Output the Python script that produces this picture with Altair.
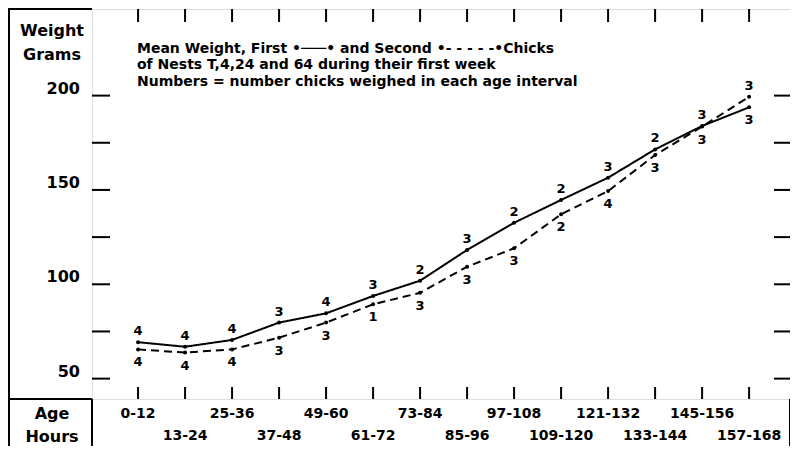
import altair as alt
import pandas as pd

# ---- data ----
ages = ["0-12", "13-24", "25-36", "37-48", "49-60", "61-72", "73-84",
        "85-96", "97-108", "109-120", "121-132", "133-144", "145-156", "157-168"]
first_weight = [69.3, 66.9, 70.5, 79.7, 84.6, 93.8, 101.9,
                118.2, 132.6, 144.7, 156.5, 171.5, 183.9, 193.8]
second_weight = [65.5, 63.8, 65.5, 71.7, 79.7, 89.4, 95.5,
                 109.3, 119.1, 137.1, 149.4, 168.5, 183.6, 199.4]
first_n = [4, 4, 4, 3, 4, 3, 2, 3, 2, 2, 3, 2, 3, 3]
second_n = [4, 4, 4, 3, 3, 1, 3, 3, 3, 2, 4, 3, 3, 3]
y_label_values = [50, 100, 150, 200]
y_tick_values = [50, 75, 100, 125, 150, 175, 200]
title_lines = [
    "Mean Weight, First \u2022\u2500\u2500\u2500\u2022 and Second \u2022- - - - -\u2022Chicks",
    "of Nests T,4,24 and 64 during their first week",
    "Numbers = number chicks weighed in each age interval",
]

FONT = "DejaVu Sans"
W, H = 698, 390

rows = []
for i, a in enumerate(ages):
    f, s = first_weight[i], second_weight[i]
    rows.append(dict(idx=i, age=a, series="First", weight=f, n=first_n[i], upper=f >= s))
    rows.append(dict(idx=i, age=a, series="Second", weight=s, n=second_n[i], upper=s > f))
df = pd.DataFrame(rows)

xdf = pd.DataFrame({"idx": list(range(len(ages))), "age": ages,
                    "row": [i % 2 for i in range(len(ages))]})
ytick_df = pd.DataFrame({"v": y_tick_values})
ylab_df = pd.DataFrame({"v": y_label_values})

xs = alt.Scale(domain=[-0.98, 13.87], nice=False, zero=False)
ys = alt.Scale(domain=[39.2, 245.9], nice=False, zero=False)
X = alt.X("idx:Q", scale=xs, axis=None)
Y = alt.Y("weight:Q", scale=ys, axis=None)

base = alt.Chart(df)
lines = base.mark_line(color="black", strokeWidth=2).encode(
    x=X, y=Y, detail="series:N",
    strokeDash=alt.StrokeDash("series:N", scale=alt.Scale(domain=["First", "Second"],
                                                          range=[[1, 0], [8, 5]]), legend=None),
)
pts = base.mark_circle(color="black", size=16, opacity=1).encode(x=X, y=Y)
lab_up = base.transform_filter("datum.upper").mark_text(
    font=FONT, fontSize=13, fontWeight="bold", dy=-11, color="black").encode(x=X, y=Y, text="n:Q")
lab_dn = base.transform_filter("!datum.upper").mark_text(
    font=FONT, fontSize=13, fontWeight="bold", dy=13, color="black").encode(x=X, y=Y, text="n:Q")

xt = alt.Chart(xdf)
xticks_b = xt.mark_rule(color="black", strokeWidth=2).encode(
    x=alt.X("idx:Q", scale=xs, axis=None), y=alt.value(H - 12), y2=alt.value(H))
xticks_t = xt.mark_rule(color="black", strokeWidth=2).encode(
    x=alt.X("idx:Q", scale=xs, axis=None), y=alt.value(0), y2=alt.value(13))
xlab0 = xt.transform_filter("datum.row == 0").mark_text(
    font=FONT, fontSize=14, fontWeight="bold", color="black").encode(
    x=alt.X("idx:Q", scale=xs, axis=None), y=alt.value(H + 15), text="age:N")
xlab1 = xt.transform_filter("datum.row == 1").mark_text(
    font=FONT, fontSize=14, fontWeight="bold", color="black").encode(
    x=alt.X("idx:Q", scale=xs, axis=None), y=alt.value(H + 37), text="age:N")

yt = alt.Chart(ytick_df)
yticks_l = yt.mark_rule(color="black", strokeWidth=2).encode(
    y=alt.Y("v:Q", scale=ys, axis=None), x=alt.value(0), x2=alt.value(18))
yticks_r = yt.mark_rule(color="black", strokeWidth=2).encode(
    y=alt.Y("v:Q", scale=ys, axis=None), x=alt.value(W - 16), x2=alt.value(W))
ylab = alt.Chart(ylab_df).mark_text(
    font=FONT, fontSize=16, fontWeight="bold", align="right", dy=-7, color="black").encode(
    y=alt.Y("v:Q", scale=ys, axis=None), x=alt.value(-12), text="v:Q")

title = alt.Chart(pd.DataFrame({"k": [0]})).mark_text(
    font=FONT, fontSize=14, fontWeight="bold", align="left", baseline="alphabetic",
    lineHeight=16.5, color="black").encode(x=alt.value(45), y=alt.value(43.5), text=alt.value(title_lines))

def side(txt, cy):
    return alt.Chart(pd.DataFrame({"k": [0]})).mark_text(
        font=FONT, fontSize=16, fontWeight="bold", color="black").encode(
        x=alt.value(-40), y=alt.value(cy), text=alt.value(txt))

frame = []
for seg in [dict(x=-83, x2=-83, y=-1, y2=H + 60),
            dict(x=-83, x2=0, y=0, y2=0),
            dict(x=-83, x2=0, y=H, y2=H),
            dict(x=0, x2=0, y=H, y2=H + 60),
            dict(x=W, x2=W, y=H, y2=H + 60)]:
    frame.append(alt.Chart(pd.DataFrame({"k": [0]})).mark_rule(color="black", strokeWidth=2).encode(
        x=alt.value(seg["x"]), x2=alt.value(seg["x2"]), y=alt.value(seg["y"]), y2=alt.value(seg["y2"])))

chart = alt.layer(
    *frame, xticks_b, xticks_t, yticks_l, yticks_r, lines, pts, lab_up, lab_dn,
    xlab0, xlab1, ylab, title,
    side("Weight", 22), side("Grams", 46), side("Age", 405), side("Hours", 428),
).properties(
    width=W, height=H,
    padding={"left": 84, "top": 1, "right": 0, "bottom": 47},
    autosize=alt.AutoSizeParams(type="none"),
).configure_view(stroke="black", strokeWidth=2).configure(background="white")

chart.save("out.html", embed_options={"renderer": "svg", "actions": False})
